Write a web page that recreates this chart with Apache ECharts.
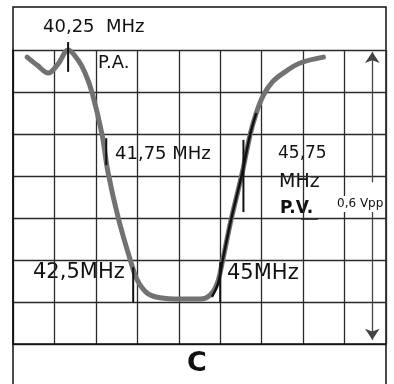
<!DOCTYPE html>
<html>
<head>
<meta charset="utf-8">
<script src="https://cdn.jsdelivr.net/npm/echarts@6/dist/echarts.min.js"></script>
<style>
  html, body { margin: 0; padding: 0; background: #fff; }
  #chart { width: 394px; height: 384px; }
</style>
</head>
<body>
<div id="chart"></div>
<script>
// screen divisions: 9 across, 7 up
const divX = 9;
const divY = 7;

// trace of the response curve, in divisions
const traceX = [0.34, 0.58, 0.85, 1.09, 1.33, 1.57, 1.74, 1.91, 2.15, 2.29, 2.54, 2.83, 3.0, 3.24, 3.55, 4.03, 4.52, 4.76, 4.93, 5.05, 5.26, 5.53, 5.72, 5.87, 6.04, 6.26, 6.52, 6.93, 7.49];
const traceY = [6.83, 6.64, 6.45, 6.67, 7.0, 6.76, 6.45, 5.98, 4.98, 4.1, 3.0, 2.0, 1.52, 1.21, 1.1, 1.07, 1.07, 1.17, 1.45, 1.95, 2.95, 4.07, 4.98, 5.5, 5.92, 6.24, 6.45, 6.69, 6.83];

// darker overdraw on the rising edge
const edgeX = [4.8, 4.95, 5.05, 5.26, 5.53, 5.72, 5.87];
const edgeY = [1.12, 1.45, 1.95, 2.95, 4.07, 4.98, 5.5];

// frequency markers: position and vertical extent of the tick
const markerX = [1.33, 2.25, 5.56, 2.9, 5.0];
const markerTop = [7.19, 4.9, 4.86, 1.83, 1.95];
const markerBottom = [6.48, 4.26, 3.14, 1.0, 1.0];

// amplitude arrow
const arrowX = 8.67;
const arrowUp = [3.85, 6.95];
const arrowDown = [3.2, 0.1];

const chart = echarts.init(document.getElementById("chart"));

const font = "DejaVu Sans";
const ink = "#111";

function label(text, x, y, size, weight) {
  return {
    type: "text",
    left: x,
    top: y - size * 0.6,
    style: { text, fill: ink, font: `${weight || "normal"} ${size}px "${font}"` },
  };
}

const markerSeries = markerX.map((x, i) => ({
  type: "line",
  data: [[x, markerTop[i]], [x, markerBottom[i]]],
  symbol: "none",
  clip: false,
  z: 4,
  lineStyle: { color: "#111", width: 2 },
}));

const option = {
  animation: false,
  backgroundColor: "#fff",
  grid: { left: 13, right: 8, top: 50, bottom: 40, show: false },
  xAxis: {
    type: "value",
    min: 0,
    max: divX,
    interval: 1,
    axisLabel: { show: false },
    axisTick: { show: false },
    axisLine: { show: true, lineStyle: { color: ink, width: 1.5 } },
    splitLine: { show: true, lineStyle: { color: "#2a2a2a", width: 1.3 } },
  },
  yAxis: {
    type: "value",
    min: 0,
    max: divY,
    interval: 1,
    axisLabel: { show: false },
    axisTick: { show: false },
    axisLine: { show: true, lineStyle: { color: ink, width: 1.5 } },
    splitLine: { show: true, lineStyle: { color: "#2a2a2a", width: 1.3 } },
  },
  series: [
    {
      type: "line",
      data: traceX.map((x, i) => [x, traceY[i]]),
      smooth: 0.35,
      symbol: "none",
      clip: false,
      z: 3,
      lineStyle: { color: "#727272", width: 5, cap: "round" },
    },
    {
      type: "line",
      data: edgeX.map((x, i) => [x, edgeY[i]]),
      smooth: 0.35,
      symbol: "none",
      z: 4,
      lineStyle: { color: "#111", width: 2.5 },
    },
    ...markerSeries,
    {
      type: "line",
      data: [],
      markLine: {
        silent: true,
        symbol: ["none", "arrow"],
        symbolSize: 11,
        label: { show: false },
        lineStyle: { color: "#444", width: 1.3, type: "solid" },
        data: [
          [{ coord: [arrowX, arrowUp[0]] }, { coord: [arrowX, arrowUp[1]] }],
          [{ coord: [arrowX, arrowDown[0]] }, { coord: [arrowX, arrowDown[1]] }],
        ],
      },
    },
  ],
  graphic: [
    {
      type: "polyline",
      shape: { points: [[13, 384], [13, 7], [386, 7], [386, 384]] },
      style: { stroke: ink, lineWidth: 1.5, fill: null },
    },
    label("40,25  MHz", 43, 29, 18),
    label("P.A.", 98, 65, 18),
    label("41,75 MHz", 115, 156, 18),
    label("45,75", 278, 155, 17),
    label("MHz", 279, 184, 19),
    label("P.V.", 280, 210, 17, "bold"),
    {
      type: "line",
      shape: { x1: 301, y1: 219, x2: 318, y2: 219 },
      style: { stroke: ink, lineWidth: 1.5 },
    },
    {
      type: "text",
      left: 336,
      top: 196,
      style: {
        text: "0,6 Vpp",
        fill: ink,
        font: `12px "${font}"`,
        backgroundColor: "#fff",
        padding: [2, 1],
      },
      z: 10,
    },
    label("42,5MHz", 33, 275, 21),
    label("45MHz", 227, 276, 21),
    label("C", 187, 367, 27, "bold"),
  ],
};

chart.setOption(option);
</script>
</body>
</html>
